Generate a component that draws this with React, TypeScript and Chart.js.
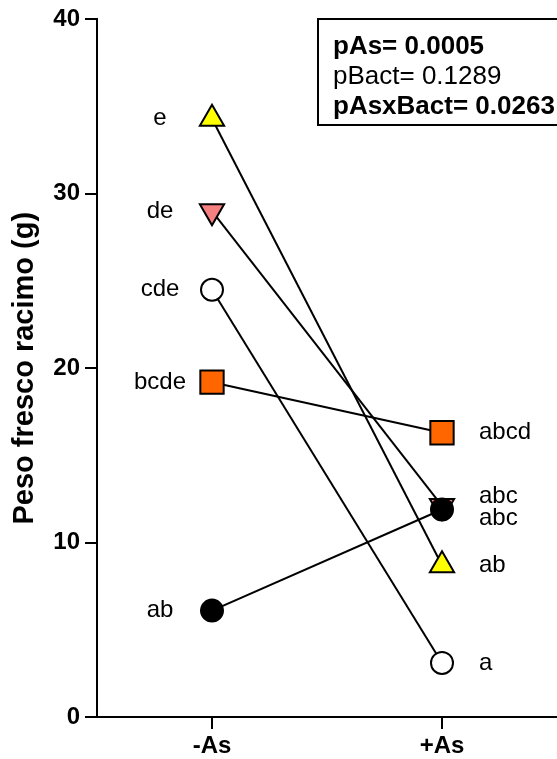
import { useEffect, useRef } from 'react';
import { Chart, registerables } from 'chart.js';

Chart.register(...registerables);

// Treatments on the x axis
const treatments = ['-As', '+As'];
const yTickValues = [0, 10, 20, 30, 40];

// Fresh bunch weight (g) for each bacterial treatment, -As then +As
const yellowTriangle = [34.3, 8.7];
const pinkTriangle = [29.0, 12.1];
const whiteCircle = [24.5, 3.1];
const orangeSquare = [19.2, 16.3];
const blackCircle = [6.1, 11.9];

// Significance letters, -As then +As
const yellowLetters = ['e', 'ab'];
const pinkLetters = ['de', 'abc'];
const whiteLetters = ['cde', 'a'];
const orangeLetters = ['bcde', 'abcd'];
const blackLetters = ['ab', 'abc'];

// ANOVA p-values shown in the box
const statLabels = ['pAs= 0.0005', 'pBact= 0.1289', 'pAsxBact= 0.0263'];
const statBold = [true, false, true];

const FONT = "'Liberation Sans', Arial, Helvetica, sans-serif";

const lettersPlugin = {
  id: 'letters',
  afterDatasetsDraw(chart: any) {
    const ctx = chart.ctx;
    ctx.save();
    ctx.font = `24px ${FONT}`;
    ctx.fillStyle = '#000';
    ctx.textBaseline = 'middle';
    const right: { x: number; y: number; text: string }[] = [];
    chart.data.datasets.forEach((ds: any, i: number) => {
      const meta = chart.getDatasetMeta(i);
      const p0 = meta.data[0];
      const p1 = meta.data[1];
      ctx.textAlign = 'center';
      ctx.fillText(ds.letters[0], p0.x - 52, p0.y);
      right.push({ x: p1.x + 37, y: p1.y, text: ds.letters[1] });
    });
    // keep right-hand letters from overlapping
    right.sort((a, b) => a.y - b.y);
    const gap = 22;
    for (let i = 1; i < right.length; i++) {
      const a = right[i - 1];
      const b = right[i];
      if (b.y - a.y < gap) {
        const mid = (a.y + b.y) / 2;
        a.y = mid - gap / 2;
        b.y = mid + gap / 2;
      }
    }
    ctx.textAlign = 'left';
    right.forEach((r) => ctx.fillText(r.text, r.x, r.y));
    ctx.restore();
  },
};

const statsBoxPlugin = {
  id: 'statsBox',
  afterDraw(chart: any) {
    const ctx = chart.ctx;
    const area = chart.chartArea;
    const left = area.right - 239;
    const top = 19;
    ctx.save();
    ctx.lineWidth = 2;
    ctx.strokeStyle = '#000';
    ctx.strokeRect(left, top, 260, 106);
    ctx.fillStyle = '#000';
    ctx.textAlign = 'left';
    ctx.textBaseline = 'middle';
    statLabels.forEach((t, i) => {
      ctx.font = `${statBold[i] ? 'bold ' : ''}26px ${FONT}`;
      ctx.fillText(t, left + 15, top + 28 + i * 30);
    });
    ctx.restore();
  },
};

function makeDataset(data: number[], letters: string[], style: string, color: string, radius: number, rotation = 0) {
  return {
    data,
    letters,
    showLine: true,
    borderColor: '#000',
    borderWidth: 2,
    pointStyle: style,
    pointRotation: rotation,
    pointRadius: radius,
    pointHoverRadius: radius,
    pointBackgroundColor: color,
    pointBorderColor: '#000',
    pointBorderWidth: 2,
    fill: false,
  };
}

export default function App() {
  const canvasRef = useRef<HTMLCanvasElement>(null);

  useEffect(() => {
    document.body.style.margin = '0';
    const canvas = canvasRef.current;
    if (!canvas) return;
    const chart = new Chart(canvas, {
      type: 'line',
      data: {
        labels: treatments,
        datasets: [
          makeDataset(blackCircle, blackLetters, 'circle', '#000000', 11),
          makeDataset(pinkTriangle, pinkLetters, 'triangle', '#F58080', 14, 180),
          makeDataset(yellowTriangle, yellowLetters, 'triangle', '#FFFF00', 14),
          makeDataset(whiteCircle, whiteLetters, 'circle', '#FFFFFF', 11),
          makeDataset(orangeSquare, orangeLetters, 'rect', '#FF6600', 16.5),
        ] as any,
      },
      options: {
        animation: false,
        responsive: false,
        maintainAspectRatio: false,
        layout: { autoPadding: false, padding: { top: 19, right: 0, bottom: 0, left: 0 } },
        plugins: {
          legend: { display: false },
          tooltip: { enabled: false },
        },
        scales: {
          x: {
            type: 'category',
            offset: true,
            grid: {
              display: true,
              drawOnChartArea: false,
              drawTicks: true,
              tickLength: 12,
              color: '#000',
              lineWidth: 2,
              offset: false,
            },
            border: { display: true, color: '#000', width: 2 },
            ticks: {
              color: '#000',
              padding: 3,
              font: { family: FONT, size: 24, weight: 'bold' },
            },
            afterFit: (s: any) => {
              s.height = 42;
              s.paddingLeft = 0;
              s.paddingRight = 0;
            },
          },
          y: {
            min: 0,
            max: 40,
            afterBuildTicks: (s: any) => {
              s.ticks = yTickValues.map((v) => ({ value: v }));
            },
            grid: {
              display: true,
              drawOnChartArea: false,
              drawTicks: true,
              tickLength: 12,
              color: '#000',
              lineWidth: 2,
            },
            border: { display: true, color: '#000', width: 2 },
            ticks: {
              color: '#000',
              padding: 5,
              font: { family: FONT, size: 24, weight: 'bold' },
            },
            title: {
              display: true,
              text: 'Peso fresco racimo (g)',
              color: '#000',
              padding: { top: 8, bottom: 0 },
              font: { family: FONT, size: 29, weight: 'bold' },
            },
            afterFit: (s: any) => {
              s.width = 97;
            },
          },
        },
      },
      plugins: [lettersPlugin, statsBoxPlugin],
    });
    return () => chart.destroy();
  }, []);

  return (
    <div style={{ width: 557, height: 759 }}>
      <canvas ref={canvasRef} width={557} height={759} style={{ display: 'block' }} />
    </div>
  );
}
